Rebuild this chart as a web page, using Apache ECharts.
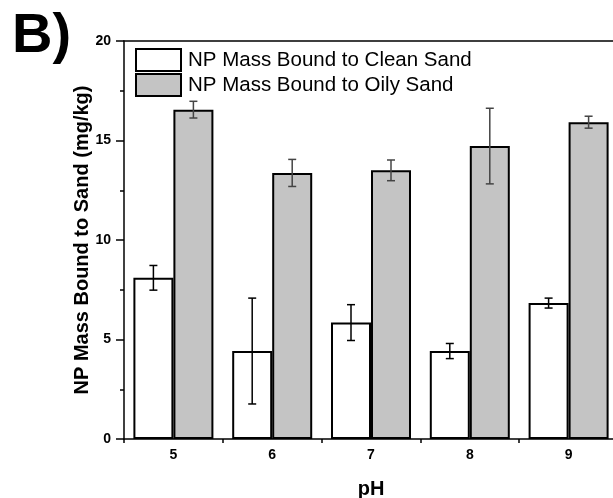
<!DOCTYPE html>
<html><head><meta charset="utf-8">
<script src="https://cdn.jsdelivr.net/npm/echarts@6/dist/echarts.min.js"></script>
<style>html,body{margin:0;padding:0;background:#fff}#c{width:613px;height:498px}</style>
</head><body><div id="c"></div>
<script>
var categories = ['5', '6', '7', '8', '9'];
var cleanValues = [8.1, 4.42, 5.85, 4.42, 6.83];
var cleanErrors = [0.62, 2.66, 0.9, 0.38, 0.25];
var oilyValues = [16.55, 13.37, 13.5, 14.72, 15.92];
var oilyErrors = [0.42, 0.68, 0.52, 1.9, 0.3];
var yTicks = [0, 5, 10, 15, 20];

var FONT = 'Liberation Sans, Arial, sans-serif';
var chart = echarts.init(document.getElementById('c'));

function errorSeries(values, errors, offset, color) {
  return {
    type: 'custom',
    z: 5,
    data: values.map(function (v, i) { return [i, v - errors[i], v + errors[i]]; }),
    renderItem: function (params, api) {
      var lo = api.coord([api.value(0), api.value(1)]);
      var hi = api.coord([api.value(0), api.value(2)]);
      var x = lo[0] + offset;
      var cap = 4;
      var st = { stroke: color, lineWidth: 1.5 };
      return {
        type: 'group',
        children: [
          { type: 'line', shape: { x1: x, y1: lo[1], x2: x, y2: hi[1] }, style: st },
          { type: 'line', shape: { x1: x - cap, y1: lo[1], x2: x + cap, y2: lo[1] }, style: st },
          { type: 'line', shape: { x1: x - cap, y1: hi[1], x2: x + cap, y2: hi[1] }, style: st }
        ]
      };
    },
    encode: { x: 0, y: [1, 2] },
    silent: true
  };
}

chart.setOption({
  animation: false,
  backgroundColor: '#fff',
  grid: { left: 124, top: 41, bottom: 59, right: -5, containLabel: false, outerBoundsMode: 'none' },
  graphic: [{
    type: 'text', left: 12, top: 9,
    style: { text: 'B)', font: 'bold 56px ' + FONT, fill: '#000' }
  }],
  legend: {
    orient: 'vertical', left: 135, top: 48, padding: 0,
    itemWidth: 45, itemHeight: 22, itemGap: 1, icon: 'rect',
    data: ['NP Mass Bound to Clean Sand', 'NP Mass Bound to Oily Sand'],
    itemStyle: { borderColor: '#000', borderWidth: 2 },
    textStyle: { fontFamily: FONT, fontSize: 20.5, color: '#000', padding: [0, 0, 0, 2] }
  },
  xAxis: [{
    type: 'category', data: categories, boundaryGap: true,
    name: 'pH', nameLocation: 'middle', nameGap: 40, nameMoveOverlap: false,
    nameTextStyle: { fontFamily: FONT, fontSize: 20, fontWeight: 'bold', color: '#000' },
    axisLine: { lineStyle: { color: '#000', width: 1.5 } },
    axisTick: { show: true, length: 4, lineStyle: { color: '#000', width: 1.5 } },
    axisLabel: { fontFamily: FONT, fontSize: 14, fontWeight: 'bold', color: '#000', margin: 9 },
    splitLine: { show: false }
  }, {
    type: 'category', data: categories, position: 'top',
    axisLine: { show: true, lineStyle: { color: '#000', width: 1.5 } },
    axisTick: { show: false }, axisLabel: { show: false }
  }],
  yAxis: {
    type: 'value', min: yTicks[0], max: yTicks[yTicks.length - 1], interval: 5,
    name: 'NP Mass Bound to Sand (mg/kg)', nameLocation: 'middle', nameGap: 32, nameMoveOverlap: false,
    nameTextStyle: { fontFamily: FONT, fontSize: 20, fontWeight: 'bold', color: '#000' },
    axisLine: { show: true, lineStyle: { color: '#000', width: 1.5 } },
    axisTick: { show: true, length: 8, lineStyle: { color: '#000', width: 1.5 } },
    minorTick: { show: true, splitNumber: 2, length: 4, lineStyle: { color: '#000', width: 1.5 } },
    axisLabel: { fontFamily: FONT, fontSize: 14, fontWeight: 'bold', color: '#000', margin: 13 },
    splitLine: { show: false }
  },
  series: [
    {
      name: 'NP Mass Bound to Clean Sand', type: 'bar', data: cleanValues,
      barWidth: 40, barGap: '0%',
      itemStyle: { color: '#ffffff', borderColor: '#000', borderWidth: 2 }
    },
    {
      name: 'NP Mass Bound to Oily Sand', type: 'bar', data: oilyValues,
      barWidth: 40, barGap: '0%',
      itemStyle: { color: '#c4c4c4', borderColor: '#000', borderWidth: 2 }
    },
    errorSeries(cleanValues, cleanErrors, -20, '#000'),
    errorSeries(oilyValues, oilyErrors, 20, '#444')
  ]
});
</script></body></html>
